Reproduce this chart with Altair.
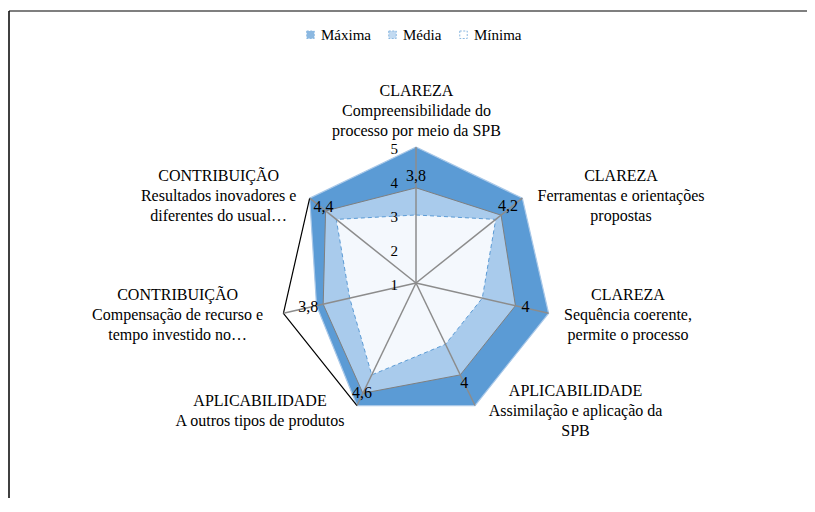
import math
import altair as alt
import pandas as pd

# ---------------- data ----------------
groups = ["CLAREZA", "CLAREZA", "CLAREZA", "APLICABILIDADE", "APLICABILIDADE",
          "CONTRIBUIÇÃO", "CONTRIBUIÇÃO"]
aspects = [
    ["Compreensibilidade do", "processo por meio  da SPB"],
    ["Ferramentas e orientações", "propostas"],
    ["Sequência coerente,", "permite o processo"],
    ["Assimilação e aplicação da", "SPB"],
    ["A outros tipos de produtos"],
    ["Compensação de recurso e", "tempo investido no…"],
    ["Resultados inovadores e", "diferentes do usual…"],
]
series = ["Máxima", "Média", "Mínima"]
maxima = [5, 5, 5, 5, 5, 4, 5]
media = [3.8, 4.2, 4, 4, 4.6, 3.8, 4.4]
minima = [3, 4, 3, 3, 4, 3, 4]
media_text = ["3,8", "4,2", "4", "4", "4,6", "3,8", "4,4"]
ticks = [1, 2, 3, 4, 5]
outline_axes = [6, 5, 4]          # black outer edge drawn on the left side
R_MIN, R_MAX = 1, 5

# ---------------- layout ----------------
PX = 34.0                 # pixels per unit
W, H = 799, 490
CX, CY = 408, 275         # centre of the radar inside the svg
x_dom = [-CX / PX, (W - CX) / PX]
y_dom = [-(H - CY) / PX, CY / PX]
cat_off = [(0.5, -55.6), (98.7, -22.7), (79.4, -18.3), (100.5, -14.5),
           (-97, -4.5), (-105.8, -18.3), (-91, -22.7)]
val_off = [(0, -12), (7, -9), (10, 1), (4, 8), (-1, 0), (-15, 3), (-2, -4)]
LINE_H = 20
FONT = "Liberation Serif"

n = len(groups)


def pos(k, v):
    a = 2 * math.pi * k / n
    r = v - R_MIN
    return r * math.sin(a), r * math.cos(a)


xs = alt.Scale(domain=x_dom, nice=False, zero=False)
ys = alt.Scale(domain=y_dom, nice=False, zero=False)
X = lambda f: alt.X(f, type="quantitative", scale=xs, axis=None)
Y = lambda f: alt.Y(f, type="quantitative", scale=ys, axis=None)


def poly_df(vals):
    rows = []
    for k in range(n + 1):
        x, y = pos(k % n, vals[k % n])
        rows.append({"k": k, "x": x, "y": y})
    return pd.DataFrame(rows)


# legend carrier (hidden under the polygons)
leg_df = pd.DataFrame({"series": series, "x": 0.0, "y": 0.0})
legend_layer = alt.Chart(leg_df).mark_square(size=10, filled=True).encode(
    x=X("x"), y=Y("y"),
    fill=alt.Fill("series:N",
                  scale=alt.Scale(domain=series, range=["#5B9BD5", "#A9CBEC", "#FFFFFF"]),
                  legend=alt.Legend(title=None, orient="none", legendX=295, legendY=19,
                                    direction="horizontal", symbolType="square",
                                    symbolSize=56, symbolStrokeColor="#5B9BD5",
                                    symbolStrokeWidth=1, symbolDash=[2, 1.5],
                                    labelFont=FONT, labelFontSize=15,
                                    labelColor="black", labelOffset=3, columnPadding=14,
                                    padding=0)),
)

max_layer = alt.Chart(poly_df(maxima)).mark_line(
    fill="#5B9BD5", stroke="#A9C8E8", strokeWidth=1.2
).encode(x=X("x"), y=Y("y"), order=alt.Order("k:Q"))

med_layer = alt.Chart(poly_df(media)).mark_line(
    fill="#A9CBEC", stroke="#7F7F7F", strokeWidth=1
).encode(x=X("x"), y=Y("y"), order=alt.Order("k:Q"))

min_layer = alt.Chart(poly_df(minima)).mark_line(
    fill="#F4F8FD", stroke="#5B9BD5", strokeWidth=1, strokeDash=[4, 3]
).encode(x=X("x"), y=Y("y"), order=alt.Order("k:Q"))

out_rows = []
for i, k in enumerate(outline_axes):
    x, y = pos(k, R_MAX)
    out_rows.append({"o": i, "x": x, "y": y})
outline_layer = alt.Chart(pd.DataFrame(out_rows)).mark_line(
    stroke="black", strokeWidth=1.2
).encode(x=X("x"), y=Y("y"), order=alt.Order("o:Q"))

sp_rows = []
for k in range(n):
    x, y = pos(k, R_MAX)
    x0, y0 = pos(k, R_MIN)
    sp_rows.append({"k": k, "x0": x0, "y0": y0, "x1": x, "y1": y})
spoke_layer = alt.Chart(pd.DataFrame(sp_rows)).mark_rule(
    color="#8C8C8C", strokeWidth=1.5
).encode(x=X("x0"), y=Y("y0"), x2="x1:Q", y2="y1:Q")

tick_rows = []
for t in ticks:
    x, y = pos(0, t)
    tick_rows.append({"t": str(t), "x": x - 18 / PX, "y": y - 2 / PX})
tick_layer = alt.Chart(pd.DataFrame(tick_rows)).mark_text(
    font=FONT, fontSize=15, color="black", align="right", baseline="middle"
).encode(x=X("x"), y=Y("y"), text="t:N")

cat_rows = []
for k in range(n):
    vx, vy = pos(k, R_MAX)
    lines = [groups[k]] + aspects[k]
    for j, s in enumerate(lines):
        dx, dy = cat_off[k]
        cat_rows.append({"s": s, "x": vx + dx / PX, "y": vy - (dy + j * LINE_H) / PX})
cat_layer = alt.Chart(pd.DataFrame(cat_rows)).mark_text(
    font=FONT, fontSize=16, color="black", align="center", baseline="middle"
).encode(x=X("x"), y=Y("y"), text="s:N")

val_rows = []
for k in range(n):
    vx, vy = pos(k, media[k])
    dx, dy = val_off[k]
    val_rows.append({"s": media_text[k], "x": vx + dx / PX, "y": vy - dy / PX})
val_layer = alt.Chart(pd.DataFrame(val_rows)).mark_text(
    font=FONT, fontSize=16, color="black", align="center", baseline="middle"
).encode(x=X("x"), y=Y("y"), text="s:N")

frame_df = pd.DataFrame({"a": [0]})
frame_left = alt.Chart(frame_df).mark_rule(color="black", strokeWidth=1.5).encode(
    x=alt.value(1), y=alt.value(3), y2=alt.value(H))
frame_top = alt.Chart(frame_df).mark_rule(color="black", strokeWidth=1.2).encode(
    x=alt.value(1), x2=alt.value(W), y=alt.value(3))

chart = alt.layer(
    legend_layer, max_layer, med_layer, min_layer, outline_layer, spoke_layer,
    tick_layer, cat_layer, val_layer, frame_left, frame_top
).properties(
    width=W, height=H, padding=0, autosize=alt.AutoSizeParams(type="none")
).configure_view(stroke=None)

chart.save("out.html", embed_options={"renderer": "svg", "actions": False})
